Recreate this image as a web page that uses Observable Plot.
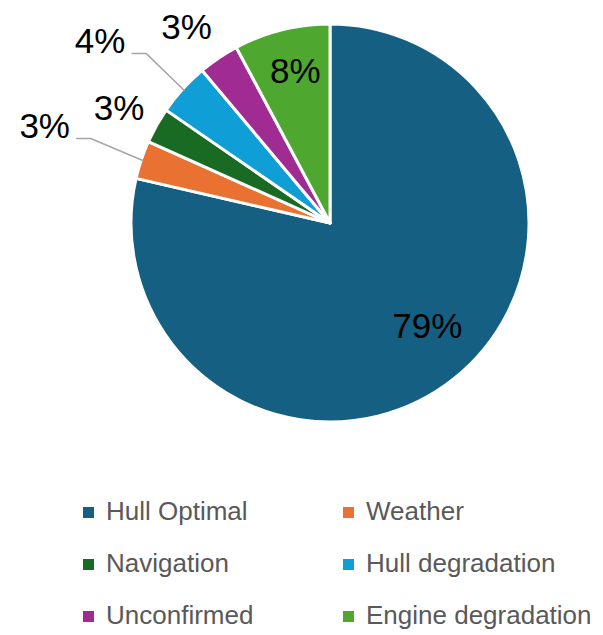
<!DOCTYPE html>
<html>
<head>
<meta charset="utf-8">
<script src="https://cdn.jsdelivr.net/npm/d3@7"></script>
<script src="https://cdn.jsdelivr.net/npm/@observablehq/plot@0.6"></script>
<style>
  html, body { margin: 0; padding: 0; background: #fff; overflow: hidden; }
  #chart svg { display: block; }
  #legend {
    display: grid;
    grid-template-columns: 260px 260px;
    margin-left: 83px;
    font-family: "Liberation Sans", Arial, sans-serif;
    font-size: 26px;
    color: #595959;
  }
  .item { display: flex; align-items: center; height: 52px; white-space: nowrap; }
  .swatch { display: inline-block; width: 11px; height: 11px; margin-right: 12px; margin-top: 2px; flex: none; }
</style>
</head>
<body>
<div id="chart"></div>
<div id="legend"></div>
<script>
// ---- data ----
const categories = ["Hull Optimal", "Weather", "Navigation", "Hull degradation", "Unconfirmed", "Engine degradation"];
const shares = [78.6, 3.1, 2.9, 4.3, 3.3, 7.8];
const colors = ["#156082", "#E97132", "#196B24", "#0F9ED5", "#A02B93", "#4EA72E"];

// ---- layout (label placement, not data) ----
const R = 199;                                  // pie radius in plot units
const labelRadius = [141, 302, 241, 294, 244, 157];
const labelTurn = [-4.8, 0.3, -0.7, -3.9, -2.1, 1.1]; // degrees nudged from slice middle
const hasLeader = [false, true, false, true, false, false];

const rows = categories.map((c, i) => ({category: c, value: shares[i]}));
const color = Plot.scale({color: {type: "ordinal", domain: categories, range: colors}});

const arcs = d3.pie().value(d => d.value).sort(null)(rows);

const labels = arcs.map((a, i) => {
  const mid = (a.startAngle + a.endAngle) / 2 + labelTurn[i] * Math.PI / 180;
  return {
    x: labelRadius[i] * Math.sin(mid),
    y: labelRadius[i] * Math.cos(mid),
    text: Math.round(a.data.value) + "%"
  };
});

const leaderPts = [];
arcs.forEach((a, i) => {
  if (!hasLeader[i]) return;
  const mid = (a.startAngle + a.endAngle) / 2;
  const l = labels[i];
  leaderPts.push({k: i, x: l.x + 32, y: l.y - 12.5});
  leaderPts.push({k: i, x: l.x + 46, y: l.y - 12.5});
  leaderPts.push({k: i, x: (R - 1) * Math.sin(mid), y: (R - 1) * Math.cos(mid)});
});

function pieMark(index, scales) {
  const cx = scales.x(0), cy = scales.y(0);
  const rPx = Math.abs(scales.x(R) - scales.x(0));
  const arc = d3.arc().innerRadius(0).outerRadius(rPx);
  const g = d3.create("svg:g").attr("transform", `translate(${cx},${cy})`);
  g.selectAll("path").data(arcs).join("path")
    .attr("d", arc)
    .attr("fill", d => color.apply(d.data.category))
    .attr("stroke", "white")
    .attr("stroke-width", 3)
    .attr("stroke-linejoin", "round");
  return g.node();
}

const plot = Plot.plot({
  width: 603,
  height: 485,
  margin: 0,
  x: {domain: [-330, 273], axis: null},
  y: {domain: [-262, 223], axis: null},
  style: {fontFamily: "'Liberation Sans', Arial, sans-serif", background: "white", overflow: "visible"},
  marks: [
    pieMark,
    Plot.line(leaderPts, {x: "x", y: "y", z: "k", stroke: "#A6A6A6", strokeWidth: 1.5}),
    Plot.text(labels, {x: "x", y: "y", text: "text", fontSize: 35, fill: "#000", dy: 1})
  ]
});
document.getElementById("chart").appendChild(plot);

const legend = document.getElementById("legend");
categories.forEach((c) => {
  const item = document.createElement("div");
  item.className = "item";
  const sw = document.createElement("span");
  sw.className = "swatch";
  sw.style.background = color.apply(c);
  const t = document.createElement("span");
  t.textContent = c;
  item.appendChild(sw);
  item.appendChild(t);
  legend.appendChild(item);
});
</script>
</body>
</html>
